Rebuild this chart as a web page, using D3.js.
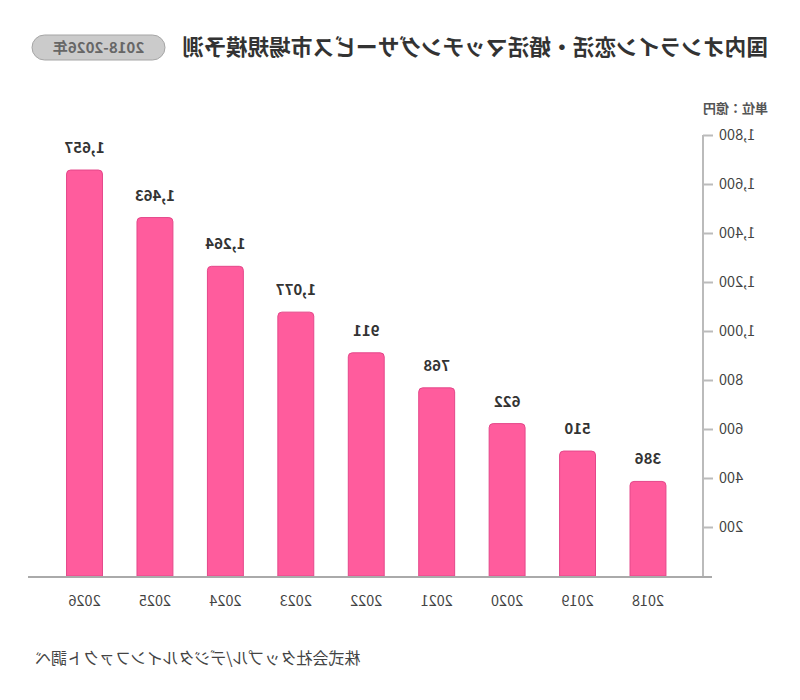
<!DOCTYPE html>
<html><head><meta charset="utf-8">
<script src="https://cdn.jsdelivr.net/npm/d3@7"></script>
<style>body{margin:0;background:#fff;} svg{display:block;}</style>
</head><body>
<svg id="c" width="800" height="700"></svg>
<script>
const years = ["2018","2019","2020","2021","2022","2023","2024","2025","2026"];
const values = [386, 510, 622, 768, 911, 1077, 1264, 1463, 1657];
const yTicks = [200, 400, 600, 800, 1000, 1200, 1400, 1600, 1800];
const titleText = "国内オンライン恋活・婚活マッチングサービス市場規模予測";
const badgeText = "2018-2026年";
const unitText = "単位：億円";
const sourceText = "株式会社タップル/デジタルインファクト調べ";

const font = "'Noto Sans CJK JP', 'Noto Sans', sans-serif";
const svg = d3.select("#c");
svg.append("rect").attr("width",800).attr("height",700).attr("fill","#fff");
// the reference is mirrored horizontally
const g = svg.append("g").attr("transform","translate(800,0) scale(-1,1)");

const x = d3.scaleBand().domain(years).range([116.8, 750.7]).paddingInner(0.49).paddingOuter(0.245);
const y = d3.scaleLinear().domain([0, 1800]).range([576, 135]);

// title
g.append("text").attr("x",32).attr("y",55).attr("font-family",font).attr("font-weight",700)
 .attr("font-size",21.7).attr("fill","#333").text(titleText);
// badge
g.append("rect").attr("x",635).attr("y",35).attr("width",133).attr("height",25).attr("rx",12.5)
 .attr("fill","#cbcbcb").attr("stroke","#a5a5a5").attr("stroke-width",1);
g.append("text").attr("x",701.5).attr("y",53).attr("text-anchor","middle").attr("font-family",font)
 .attr("font-weight",700).attr("font-size",15).attr("fill","#666").text(badgeText);

// unit
g.append("text").attr("x",32).attr("y",113).attr("font-family",font).attr("font-size",13)
 .attr("font-weight",700).attr("fill","#555").text(unitText);

// y axis
const ax = g.append("g").attr("transform","translate(97,0)")
 .call(d3.axisLeft(y).tickValues(yTicks).tickSize(10).tickPadding(6).tickFormat(d3.format(",")));
ax.select(".domain").attr("stroke","#bbb").attr("stroke-width",2).attr("d","M0,135V577");
ax.selectAll(".tick line").attr("stroke","#bbb").attr("stroke-width",2);
ax.selectAll(".tick text").attr("font-family",font).attr("font-size",14.5).attr("fill","#444");

// bars with rounded tops
const r = 4;
g.selectAll("path.bar").data(values).join("path").attr("class","bar")
 .attr("d",(d,i)=>{
   const x0 = x(years[i]), w = x.bandwidth(), y0 = y(d), yb = y(0);
   return `M${x0},${yb}V${y0+r}Q${x0},${y0} ${x0+r},${y0}H${x0+w-r}Q${x0+w},${y0} ${x0+w},${y0+r}V${yb}Z`;
 })
 .attr("fill","#ff5c9d").attr("stroke","#e4478a").attr("stroke-width",1);

// baseline
g.append("line").attr("x1",88).attr("x2",772).attr("y1",577).attr("y2",577)
 .attr("stroke","#aaa").attr("stroke-width",2);

// value labels
g.selectAll("text.val").data(values).join("text").attr("class","val")
 .attr("x",(d,i)=>x(years[i])+x.bandwidth()/2).attr("y",d=>y(d)-17)
 .attr("text-anchor","middle").attr("font-family",font).attr("font-weight",700)
 .attr("font-size",15).attr("fill","#333").text(d=>d3.format(",")(d));

// x labels
g.selectAll("text.yr").data(years).join("text").attr("class","yr")
 .attr("x",d=>x(d)+x.bandwidth()/2).attr("y",606).attr("text-anchor","middle")
 .attr("font-family",font).attr("font-size",14.5).attr("fill","#444").text(d=>d);

// source
g.append("text").attr("x",765).attr("y",664).attr("text-anchor","end").attr("font-family",font)
 .attr("font-size",16).attr("fill","#444").text(sourceText);
</script>
</body></html>
